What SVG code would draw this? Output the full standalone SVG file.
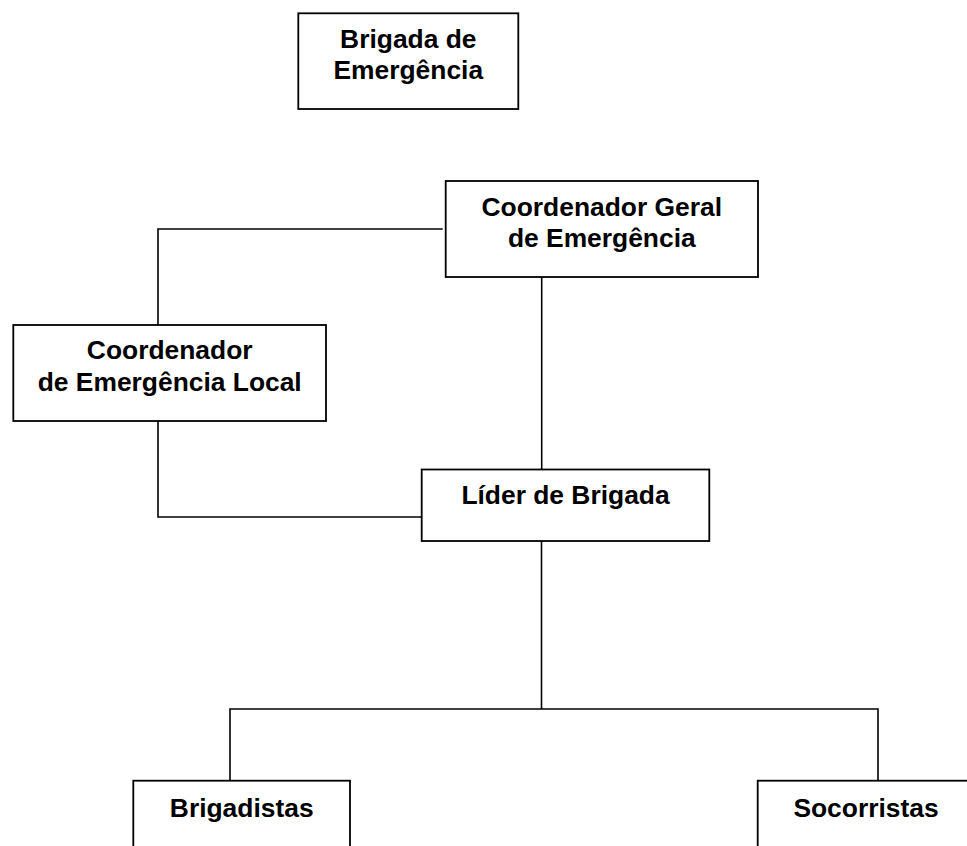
<svg xmlns="http://www.w3.org/2000/svg" width="967" height="846" viewBox="0 0 967 846">
<style>
.box{fill:#fff;stroke:#000;stroke-width:1.8}
.lbl{font-family:"Liberation Sans",Arial,sans-serif;font-weight:bold;font-size:26.4px;fill:#000;text-anchor:middle}
.con{fill:none;stroke:#000;stroke-width:1.6}
</style>
<rect width="967" height="846" fill="#fff"/>
<g id="connectors">
<polyline class="con" points="442.7,229 158,229 158,325"/>
<line class="con" x1="541.7" y1="277" x2="541.7" y2="469.5"/>
<polyline class="con" points="158,421 158,517 421.7,517"/>
<line class="con" x1="541.5" y1="541" x2="541.5" y2="709"/>
<polyline class="con" points="230,781 230,709 878,709 878,781"/>
</g>
<g id="brigada">
<rect class="box" x="298.3" y="13.3" width="220" height="95.7"/>
<text class="lbl" x="408.3" y="47.7">Brigada de</text>
<text class="lbl" x="408.3" y="78.7">Emergência</text>
</g>
<g id="coord-geral">
<rect class="box" x="445.7" y="181" width="312.3" height="96"/>
<text class="lbl" x="601.8" y="215.5">Coordenador Geral</text>
<text class="lbl" x="601.8" y="246.5">de Emergência</text>
</g>
<g id="coord-local">
<rect class="box" x="13.3" y="325" width="312.7" height="96"/>
<text class="lbl" x="169.7" y="359">Coordenador</text>
<text class="lbl" x="169.7" y="390.7">de Emergência Local</text>
</g>
<g id="lider">
<rect class="box" x="421.7" y="469.5" width="287.6" height="71.5"/>
<text class="lbl" x="565.5" y="504.3">Líder de Brigada</text>
</g>
<g id="brigadistas">
<rect class="box" x="133.3" y="780.7" width="216.7" height="100"/>
<text class="lbl" x="241.7" y="816.7">Brigadistas</text>
</g>
<g id="socorristas">
<rect class="box" x="757.7" y="780.7" width="216.7" height="100"/>
<text class="lbl" x="866" y="816.7">Socorristas</text>
</g>
</svg>
